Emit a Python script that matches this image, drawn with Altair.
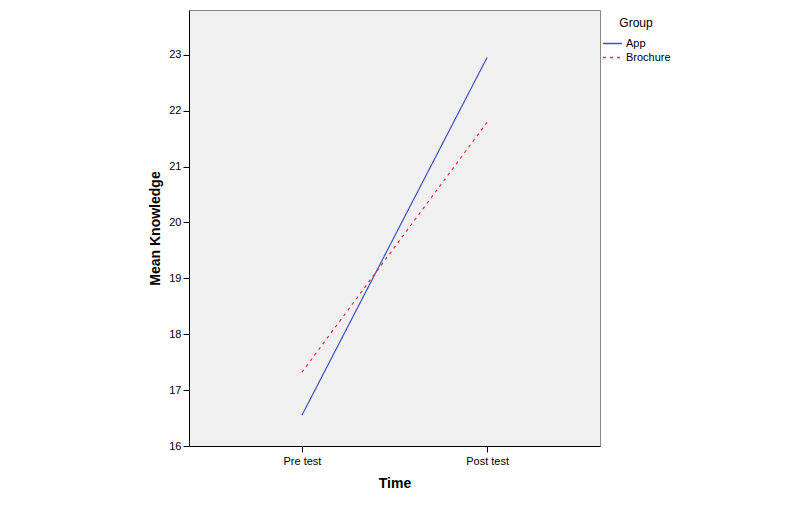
import altair as alt
import pandas as pd

times = ["Pre test", "Post test"]
groups = ["App", "Brochure"]
app_means = [16.55, 22.95]
brochure_means = [17.32, 21.79]

rows = []
for t, a, b in zip(times, app_means, brochure_means):
    rows.append({"Time": t, "Group": "App", "Mean": a})
    rows.append({"Time": t, "Group": "Brochure", "Mean": b})
df = pd.DataFrame(rows)

chart = alt.Chart(df).mark_line(strokeWidth=1.2).encode(
    x=alt.X("Time:N", sort=times,
            scale=alt.Scale(type="point", padding=0.61),
            axis=alt.Axis(title="Time", labelAngle=0, labelFontSize=11,
                          labelPadding=3, tickSize=6, tickColor="#000",
                          domainColor="#000", titleFontSize=14, titleFontWeight="bold",
                          titlePadding=10, grid=False)),
    y=alt.Y("Mean:Q",
            scale=alt.Scale(domain=[16, 23.8], nice=False, zero=False),
            axis=alt.Axis(title="Mean Knowledge", values=list(range(16, 24)),
                          labelFontSize=11, labelPadding=2, tickSize=6,
                          tickColor="#000", domainColor="#000",
                          titleFontSize=14, titleFontWeight="bold",
                          titlePadding=6, grid=False)),
    color=alt.Color("Group:N", sort=groups,
                    scale=alt.Scale(domain=groups, range=["#3f51c4", "#e8313a"]),
                    legend=alt.Legend(title="Group", orient="none", legendX=413, legendY=8,
                                      symbolType="stroke", symbolSize=361,
                                      symbolStrokeWidth=1.5, clipHeight=13, rowPadding=1,
                                      labelFontSize=11, titleFontSize=12,
                                      titleFontWeight="normal", titleAnchor="middle",
                                      titlePadding=7, labelOffset=3,
                                      labelColor="#000", titleColor="#000")),
    strokeDash=alt.StrokeDash("Group:N", sort=groups,
                              scale=alt.Scale(domain=groups, range=[[1, 0], [3, 4]]),
                              legend=None),
).properties(
    width=411, height=436,
    autosize=alt.AutoSizeParams(type="none"),
    padding={"left": 181, "top": 2, "right": 180, "bottom": 50},
    view=alt.ViewBackground(fill="#f0f0f0", stroke="#888888", strokeWidth=1),
).configure(
    font="Liberation Sans",
).configure_axis(
    labelColor="#000", titleColor="#000",
)

chart.save("out.html", embed_options={"renderer": "svg", "actions": False})
